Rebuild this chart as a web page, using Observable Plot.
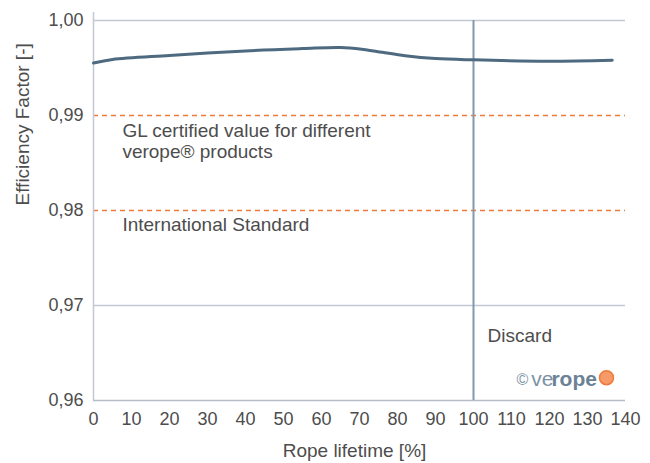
<!DOCTYPE html>
<html>
<head>
<meta charset="utf-8">
<script src="https://cdn.jsdelivr.net/npm/d3@7"></script>
<script src="https://cdn.jsdelivr.net/npm/@observablehq/plot@0.6"></script>
<style>
  html, body { margin: 0; padding: 0; background: #fff; }
  #chart svg { display: block; }
</style>
</head>
<body>
<div id="chart"></div>
<script>
// Rope lifetime [%] and efficiency factor
const lifetime   = [0, 5, 20, 40, 55, 65, 71, 76, 82, 90, 100, 119.5, 136.5];
const efficiency = [0.99553, 0.99590, 0.99632, 0.99680, 0.99704, 0.99716, 0.99695, 0.99665, 0.99630, 0.99600, 0.99586, 0.99572, 0.99582];

const xTicks = [0, 10, 20, 30, 40, 50, 60, 70, 80, 90, 100, 110, 120, 130, 140];
const yTicks = [0.96, 0.97, 0.98, 0.99, 1.00];
const solidGrid = [0.97, 1.00];
const referenceLevels = [0.99, 0.98];
const discardAt = [100];
const xLabel = "Rope lifetime [%]";
const yLabel = "Efficiency Factor [-]";

const annotations = [
  {x: 7.6, y: 0.98737, text: "GL certified value for different\nverope\u00AE products"},
  {x: 7.6, y: 0.97853, text: "International Standard"},
  {x: 103.7, y: 0.96689, text: "Discard"}
];

const data = lifetime.map((x, i) => ({x, y: efficiency[i]}));
const font = "Liberation Sans, Arial, Helvetica, sans-serif";
const textColor = "#4d4d4d";
const gridColor = "#c3c8d2";
const orange = "#f07a3a";

const chart = Plot.plot({
  width: 650,
  height: 463,
  marginLeft: 93,
  marginRight: 25,
  marginTop: 20,
  marginBottom: 63,
  style: {fontFamily: font, fontSize: "18px", color: textColor, background: "#fff"},
  x: {domain: [0, 140]},
  y: {domain: [0.96, 1.0]},
  marks: [
    Plot.ruleY(solidGrid, {stroke: gridColor, strokeWidth: 1.5}),
    Plot.ruleY(referenceLevels, {stroke: orange, strokeWidth: 1.3, strokeDasharray: "5,4"}),
    Plot.ruleY([0.96], {stroke: "#b5bdc9", strokeWidth: 1.5}),
    Plot.ruleX([0], {y1: 0.96, y2: 1.00084, stroke: "#c3c8d2", strokeWidth: 1.5}),
    Plot.ruleX(discardAt, {y1: 0.96, y2: 1.00, stroke: "#8299ab", strokeWidth: 2}),
    Plot.axisX({ticks: xTicks, tickSize: 0, tickPadding: 12, fontSize: 18, label: null, fill: textColor}),
    Plot.axisY({ticks: yTicks, tickSize: 0, tickPadding: 10, fontSize: 18, tickFormat: d => d3.format(".2f")(d).replace(".", ","), label: null, fill: textColor}),
    Plot.text([xLabel], {frameAnchor: "bottom", dy: 56, dx: -5, fontSize: 19, fill: textColor}),
    Plot.text([yLabel], {frameAnchor: "left", dx: -71, dy: -5, rotate: -90, fontSize: 19, fill: textColor}),
    Plot.line(data, {x: "x", y: "y", curve: "catmull-rom", stroke: "#4d6a80", strokeWidth: 3}),
    Plot.text(annotations, {x: "x", y: "y", text: "text", textAnchor: "start", fontSize: 19, lineHeight: 1.12, fill: textColor}),
    // logo
    Plot.text(["\u00A9"], {x: 111.3, y: 0.96221, textAnchor: "start", fontSize: 16, fill: "#7d92a5"}),
    Plot.text(["ve"], {x: 115.2, y: 0.96221, textAnchor: "start", fontSize: 21, fill: "#7d92a5"}),
    Plot.text(["rope"], {x: 120.5, y: 0.96221, textAnchor: "start", fontSize: 21, fontWeight: "bold", fill: "#6b8296"}),
    Plot.dot([135], {x: d => d, y: 0.96240, r: 7, fill: "#f59a68", stroke: orange, strokeWidth: 1.5})
  ]
});
document.getElementById("chart").appendChild(chart);
</script>
</body>
</html>
